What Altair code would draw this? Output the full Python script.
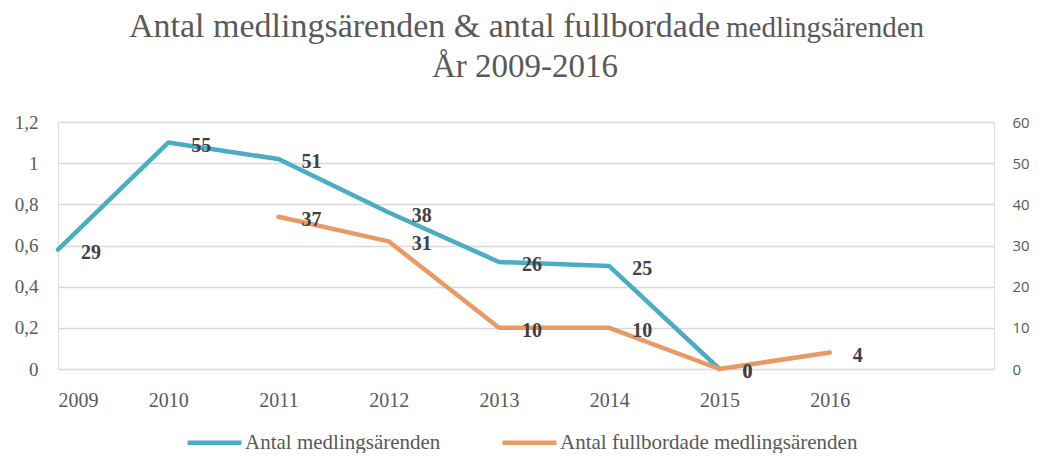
import altair as alt
import pandas as pd

years = [2009, 2010, 2011, 2012, 2013, 2014, 2015, 2016]
antal = [29, 55, 51, 38, 26, 25, 0, None]
fullbordade = [None, None, 37, 31, 10, 10, 0, 4]
series_names = ["Antal medlingsärenden", "Antal fullbordade medlingsärenden"]
series_colors = ["#4bacc6", "#e99a64"]
left_ticks = [0, 0.2, 0.4, 0.6, 0.8, 1.0, 1.2]
right_ticks = [0, 10, 20, 30, 40, 50, 60]
title_big = "Antal medlingsärenden & antal fullbordade"
title_small = "medlingsärenden"
title_line2 = "År 2009-2016"

rows = []
for name, vals in zip(series_names, [antal, fullbordade]):
    for y, v in zip(years, vals):
        if v is not None:
            rows.append({"year": y, "value": v, "serie": name})
df = pd.DataFrame(rows)

W, H = 936, 247
serif = "Liberation Serif"
gray = "#595959"

xenc = alt.X(
    "year:Q",
    scale=alt.Scale(domain=[2009, 2017.49], nice=False, zero=False),
    axis=alt.Axis(values=years, format="d", grid=False, domain=False, ticks=False,
                  labelPadding=21, labelFont=serif, labelFontSize=20, labelColor=gray,
                  title=None),
)

df_left = pd.DataFrame({"v": left_ticks, "year": [2009] * len(left_ticks)})
left = alt.Chart(df_left).mark_point(opacity=0).encode(
    x=xenc,
    y=alt.Y("v:Q", scale=alt.Scale(domain=[0, 1.2], nice=False),
            axis=alt.Axis(values=left_ticks, format="~g",
                          labelExpr="replace(datum.label, '.', ',')",
                          orient="left", grid=True, gridColor="#d9d9d9", gridWidth=1.5,
                          domain=False, ticks=False, labelPadding=20, labelFont=serif,
                          labelFontSize=19, labelColor=gray, title=None)),
)

yright = alt.Y("value:Q", scale=alt.Scale(domain=[0, 60], nice=False),
               axis=alt.Axis(values=right_ticks, orient="right", grid=False, domain=False,
                             ticks=False, labelPadding=18, labelFont="Open Sans",
                             labelFontSize=15, labelColor=gray, title=None))

lines = alt.Chart(df).mark_line(strokeWidth=4.5, strokeCap="round", strokeJoin="round").encode(
    x=xenc,
    y=yright,
    color=alt.Color("serie:N", scale=alt.Scale(domain=series_names, range=series_colors),
                    legend=alt.Legend(title=None, orient="none", direction="horizontal",
                                      legendX=127, legendY=291, padding=0,
                                      symbolType="stroke", symbolSize=2900,
                                      symbolStrokeWidth=4.5, labelFont=serif,
                                      labelFontSize=21, labelColor=gray, labelOffset=1,
                                      labelLimit=500, columnPadding=52)),
)

labels = alt.Chart(df).mark_text(align="left", baseline="middle", dx=23, dy=3,
                                 font=serif, fontSize=20, fontWeight="bold",
                                 color="#404040").encode(
    x=xenc, y=yright, text=alt.Text("value:Q", format="d"))

t_big = alt.Chart(pd.DataFrame({"t": [title_big]})).mark_text(
    align="right", baseline="alphabetic", font=serif, fontSize=34, color=gray
).encode(x=alt.value(662), y=alt.value(-85), text="t:N")
t_small = alt.Chart(pd.DataFrame({"t": [title_small]})).mark_text(
    align="left", baseline="alphabetic", font=serif, fontSize=29, color=gray
).encode(x=alt.value(668), y=alt.value(-85), text="t:N")
t_line2 = alt.Chart(pd.DataFrame({"t": [title_line2]})).mark_text(
    align="center", baseline="alphabetic", font=serif, fontSize=33, color=gray
).encode(x=alt.value(467), y=alt.value(-45), text="t:N")

right = alt.layer(lines, labels)
chart = alt.layer(left, right, t_big, t_small, t_line2).resolve_scale(y="independent").properties(
    width=W, height=H,
    autosize=alt.AutoSizeParams(type="none"),
    padding={"left": 50, "top": 114, "right": 38, "bottom": 84},
).configure_view(stroke=None).configure(background="white")

chart.save("out.html", embed_options={"renderer": "svg", "actions": False})
